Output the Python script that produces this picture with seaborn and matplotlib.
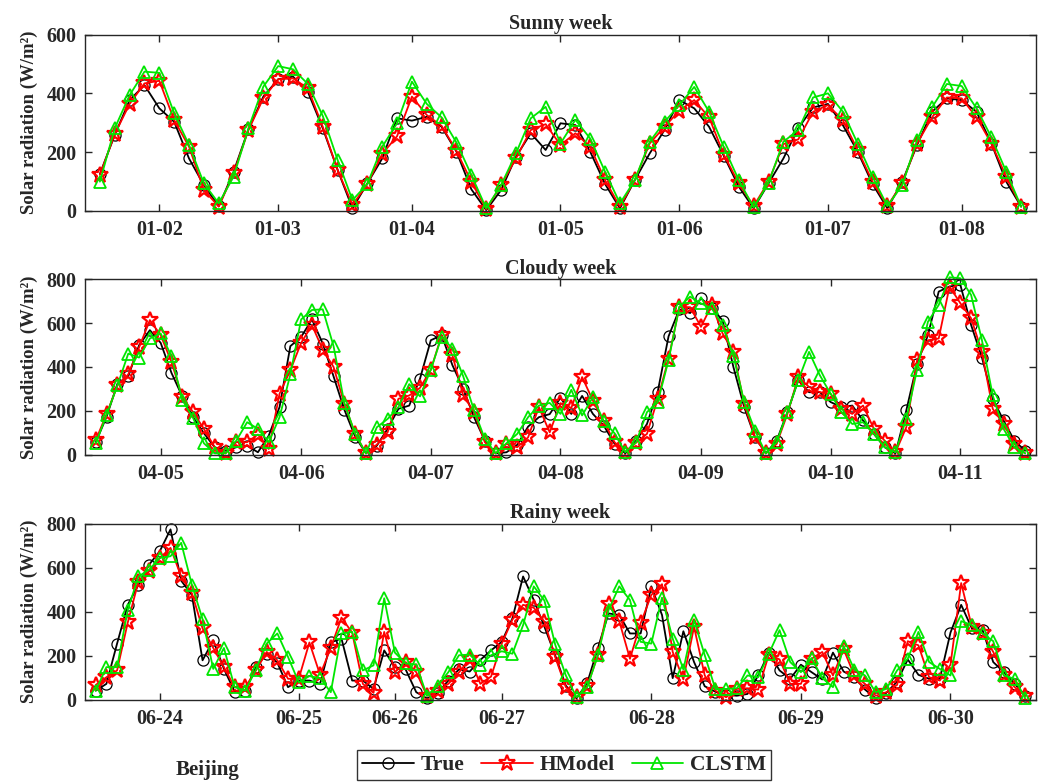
import matplotlib
matplotlib.use("Agg")
import matplotlib.pyplot as plt
import seaborn as sns
import numpy as np

# ---- Sunny week (01-02 .. 01-08) ----
sunny_true = [125, 258, 377, 428, 349, 303, 178, 87, 15, 133, 278, 389, 448, 457, 405, 281, 139, 8, 93, 178,
              315, 307, 320, 286, 201, 73, 2, 70, 184, 264, 207, 298, 292, 201, 91, 8, 104, 195, 275, 377,
              349, 286, 186, 82, 8, 93, 178, 281, 352, 364, 292, 201, 91, 8, 99, 224, 337, 383, 377, 337,
              229, 99, 14]
sunny_hmodel = [122, 261, 364, 434, 443, 309, 218, 70, 14, 127, 275, 383, 448, 451, 417, 286, 139, 19, 91, 193,
                254, 389, 326, 289, 204, 99, 5, 87, 178, 275, 295, 224, 264, 218, 104, 14, 104, 229, 286, 341,
                377, 318, 190, 93, 16, 99, 227, 243, 337, 360, 309, 207, 99, 16, 93, 229, 318, 386, 383, 318,
                229, 116, 14]
sunny_clstm = [99, 281, 394, 474, 470, 332, 224, 93, 25, 116, 281, 423, 493, 482, 432, 323, 173, 36, 91, 218,
               298, 440, 364, 318, 232, 122, 8, 87, 195, 315, 354, 229, 310, 246, 133, 25, 104, 235, 303, 360,
               422, 337, 216, 104, 11, 95, 235, 275, 386, 400, 338, 229, 116, 16, 87, 241, 352, 432, 425, 349,
               250, 133, 14]
sunny_ticks = [4, 12, 21, 31, 39, 49, 58]
sunny_labels = ['01-02', '01-03', '01-04', '01-05', '01-06', '01-07', '01-08']

# ---- Cloudy week (04-05 .. 04-11) ----
cloudy_true = [57, 174, 324, 357, 499, 568, 510, 373, 266, 171, 98, 34, 18, 34, 41, 11, 87, 217, 495, 537,
               617, 507, 357, 205, 82, 6, 41, 118, 209, 224, 347, 522, 545, 408, 301, 171, 64, 6, 11, 45,
               128, 171, 185, 260, 186, 268, 186, 133, 50, 6, 64, 140, 288, 540, 663, 646, 713, 671, 612, 400,
               217, 79, 6, 64, 194, 339, 285, 285, 240, 217, 224, 156, 95, 34, 6, 202, 415, 545, 744, 767,
               775, 591, 443, 255, 156, 64, 18]
cloudy_hmodel = [67, 186, 316, 366, 489, 614, 545, 423, 263, 194, 118, 34, 6, 57, 57, 92, 26, 278, 385, 510,
                 591, 479, 400, 232, 95, 6, 46, 102, 255, 270, 305, 387, 545, 453, 270, 194, 57, 6, 49, 34,
                 79, 217, 102, 235, 213, 354, 247, 152, 57, 14, 55, 95, 255, 438, 673, 673, 583, 683, 553, 469,
                 232, 79, 6, 49, 186, 354, 309, 285, 278, 209, 186, 224, 118, 64, 11, 125, 431, 522, 530, 767,
                 691, 622, 469, 209, 140, 49, 6]
cloudy_clstm = [52, 183, 316, 461, 443, 530, 553, 449, 250, 168, 52, 6, 6, 64, 148, 118, 57, 171, 366, 617,
                660, 663, 495, 235, 95, 6, 125, 163, 217, 322, 266, 388, 538, 484, 357, 202, 72, 6, 52, 95,
                171, 224, 236, 186, 296, 179, 263, 152, 98, 11, 57, 194, 240, 431, 675, 721, 690, 667, 591, 452,
                240, 110, 6, 57, 194, 339, 469, 362, 278, 194, 140, 148, 95, 34, 11, 163, 388, 606, 683, 809,
                805, 728, 522, 270, 118, 34, 6]
cloudy_ticks = [6, 19, 31, 43, 56, 68, 80]
cloudy_labels = ['04-05', '04-06', '04-07', '04-08', '04-09', '04-10', '04-11']

# ---- Rainy week (06-24 .. 06-30) ----
rainy_true = [41, 72, 255, 431, 522, 614, 675, 774, 541, 476, 179, 270, 140, 37, 41, 148, 209, 168, 57, 87,
              87, 72, 260, 278, 87, 87, 49, 224, 148, 138, 34, 6, 30, 87, 138, 128, 181, 224, 263, 370,
              560, 453, 331, 202, 64, 6, 76, 235, 392, 385, 301, 301, 515, 385, 98, 311, 171, 61, 36, 22,
              18, 26, 110, 214, 133, 95, 159, 125, 92, 214, 128, 102, 46, 6, 31, 82, 183, 113, 95, 95,
              305, 431, 324, 316, 171, 125, 72, 18]
rainy_hmodel = [67, 102, 133, 351, 537, 583, 644, 690, 560, 484, 324, 235, 148, 57, 57, 133, 217, 179, 95, 95,
                260, 113, 235, 373, 305, 72, 31, 308, 125, 171, 125, 18, 41, 72, 124, 186, 72, 105, 255, 364,
                431, 418, 354, 194, 57, 11, 61, 202, 434, 357, 186, 347, 476, 525, 217, 92, 331, 110, 41, 11,
                49, 52, 46, 205, 183, 72, 72, 186, 217, 110, 229, 110, 72, 18, 34, 67, 266, 247, 102, 87,
                159, 530, 331, 301, 217, 110, 57, 18]
rainy_clstm = [41, 148, 148, 408, 560, 591, 644, 652, 713, 522, 366, 140, 235, 57, 41, 137, 255, 301, 194, 79,
               107, 98, 34, 301, 308, 133, 156, 461, 214, 165, 160, 18, 64, 125, 202, 205, 156, 202, 220, 209,
               339, 515, 450, 251, 110, 11, 57, 202, 408, 515, 453, 263, 255, 464, 278, 137, 362, 202, 48, 49,
               52, 110, 102, 209, 316, 171, 125, 189, 98, 57, 244, 137, 110, 34, 49, 133, 186, 308, 171, 140,
               110, 357, 339, 301, 266, 110, 95, 6]
rainy_ticks = [6, 19, 28, 38, 52, 66, 80]
rainy_labels = ['06-24', '06-25', '06-26', '06-27', '06-28', '06-29', '06-30']

sns.set_style("ticks")
plt.rcParams['font.family'] = ['Liberation Serif', 'DejaVu Serif']
plt.rcParams['font.weight'] = 'bold'
plt.rcParams['axes.labelweight'] = 'bold'
plt.rcParams['axes.titleweight'] = 'bold'
plt.rcParams['xtick.direction'] = 'in'
plt.rcParams['ytick.direction'] = 'in'
plt.rcParams['xtick.top'] = True
plt.rcParams['ytick.right'] = True

fig = plt.figure(figsize=(10.51, 7.83), dpi=100)

panels = [
    ("Sunny week", sunny_true, sunny_hmodel, sunny_clstm, sunny_ticks, sunny_labels, 600, [0.0809, 0.7309, 0.9048, 0.2248]),
    ("Cloudy week", cloudy_true, cloudy_hmodel, cloudy_clstm, cloudy_ticks, cloudy_labels, 800, [0.0809, 0.4193, 0.9048, 0.2240]),
    ("Rainy week", rainy_true, rainy_hmodel, rainy_clstm, rainy_ticks, rainy_labels, 800, [0.0809, 0.1064, 0.9048, 0.2248]),
]

green = '#00E600'
handles = None
for title, t, h, c, ticks, labels, ymax, pos in panels:
    ax = fig.add_axes(pos)
    x = np.arange(len(t))
    sns.lineplot(x=x, y=t, ax=ax, color='black', lw=1.3, marker='o', markersize=8,
                 markerfacecolor='none', markeredgecolor='black', markeredgewidth=0.9,
                 clip_on=False, label='True')
    sns.lineplot(x=x, y=h, ax=ax, color='red', lw=1.3, marker='*', markersize=12,
                 markerfacecolor='none', markeredgecolor='red', markeredgewidth=1.6,
                 clip_on=False, label='HModel')
    sns.lineplot(x=x, y=c, ax=ax, color=green, lw=1.3, marker='^', markersize=9,
                 markerfacecolor='none', markeredgecolor=green, markeredgewidth=1.3,
                 clip_on=False, label='CLSTM')
    if ax.get_legend() is not None:
        handles = ax.get_legend_handles_labels()
        ax.get_legend().remove()
    ax.set_xlim(-1, len(t))
    ax.set_ylim(0, ymax)
    ax.set_yticks(np.arange(0, ymax + 1, 200))
    ax.set_xticks(ticks)
    ax.set_xticklabels(labels)
    ax.tick_params(labelsize=14.5, length=5, width=1, pad=7)
    ax.tick_params(axis='y', pad=6)
    ax.set_title(title, fontsize=14.5, fontweight='bold', pad=4)
    ax.set_ylabel('Solar radiation (W/m²)', fontsize=13.5, fontweight='bold', labelpad=6)
    ax.set_xlabel('')
    for s in ax.spines.values():
        s.set_linewidth(1.0)
        s.set_color('#262626')

hs, ls = handles
fig.legend(hs, ls, loc='center', bbox_to_anchor=(564 / 1051, 1 - 765 / 783), ncol=3,
           frameon=True, fancybox=False, edgecolor='black', fontsize=15.5,
           handlelength=2.4, columnspacing=0.8, handletextpad=0.3, borderpad=0.25)
fig.text(208 / 1051, 1 - 770 / 783, 'Beijing', ha='center', va='center', fontsize=15, fontweight='bold')

fig.savefig('out.png', dpi=100)
